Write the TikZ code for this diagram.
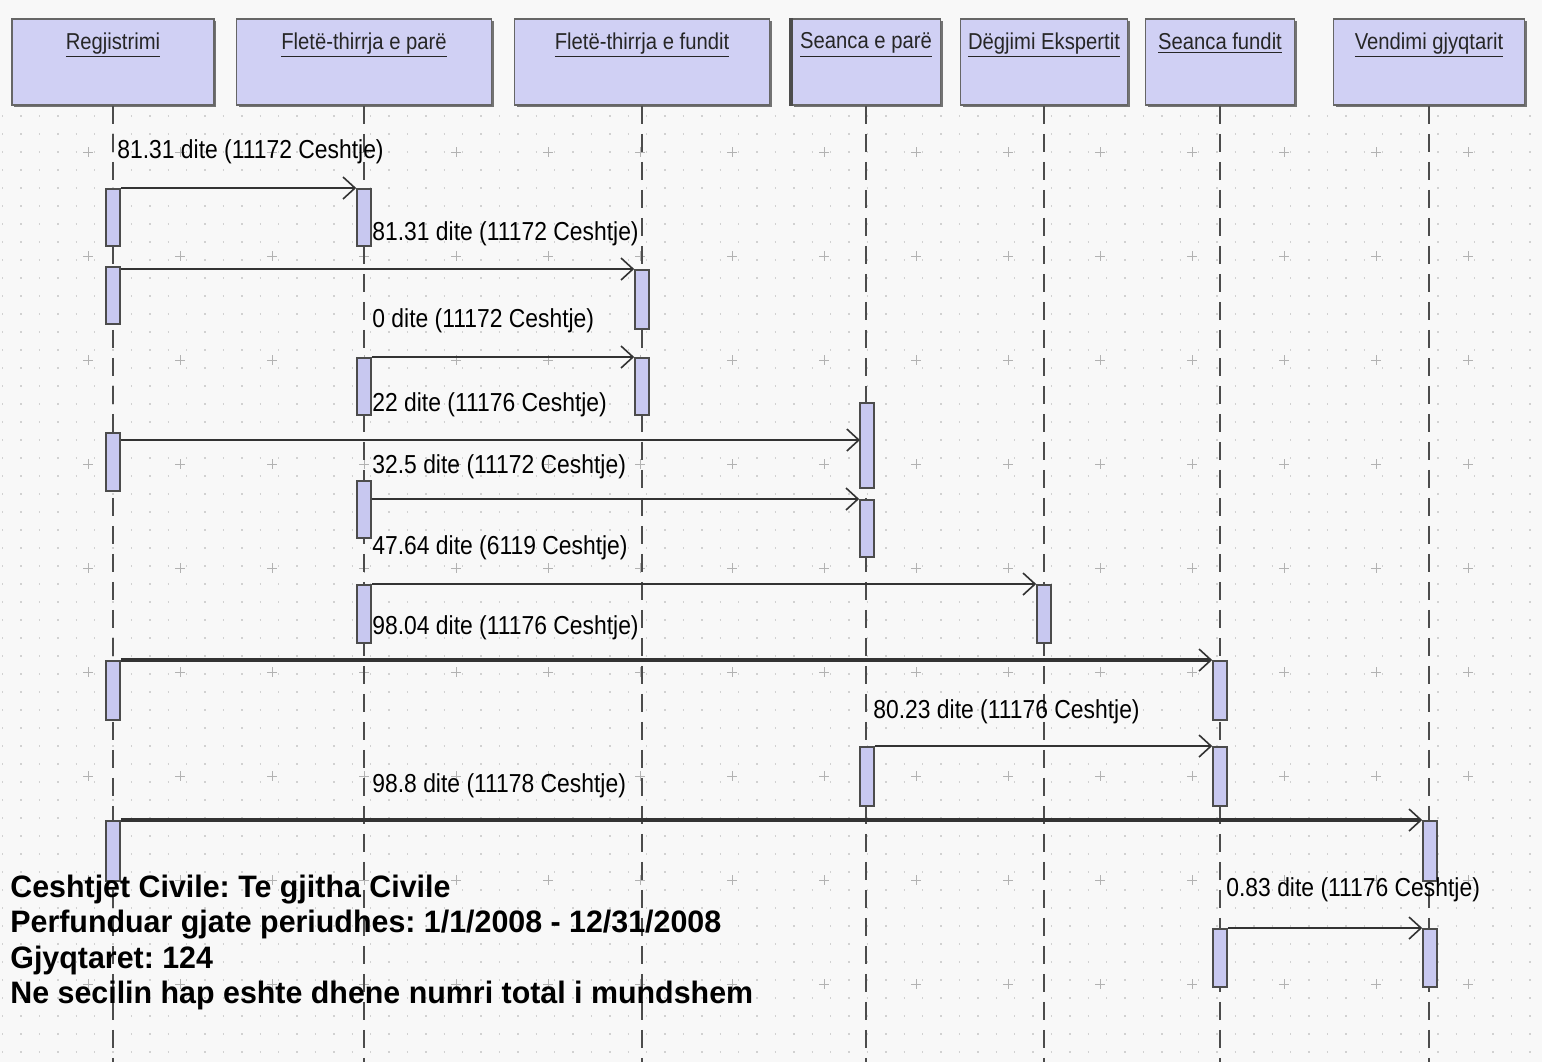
\documentclass[tikz,border=0pt]{standalone}
\usepackage{fontspec}
\setmainfont{Liberation Sans}
\newfontfamily\lblfont[FakeStretch=0.88]{Liberation Sans}
\newfontfamily\botfont[FakeStretch=0.98]{Liberation Sans}
\usetikzlibrary{arrows.meta,shadows,calc}
\definecolor{boxfill}{HTML}{D0D0F4}
\definecolor{actfill}{HTML}{C8C8F0}
\definecolor{bg}{HTML}{F8F8F8}
\frenchspacing
\tikzset{
  head/.style={draw=black!60, line width=0.8pt, fill=boxfill, minimum height=43pt, inner sep=0pt,
    drop shadow={shadow xshift=1.2pt, shadow yshift=-1.2pt, fill=black!55, opacity=1}},
  htext/.style={anchor=north, inner sep=0pt, font=\lblfont\fontsize{11.5}{12}\selectfont, text=black!85},
  life/.style={draw=black!70, line width=1pt, dash pattern=on 9pt off 5pt},
  act/.style={draw=black!70, line width=0.8pt, fill=actfill, minimum width=7pt, inner sep=0pt, anchor=north},
  msg/.style={draw=black!80, line width=0.8pt, -{Straight Barb[length=6pt,width=11pt,line width=0.8pt]}},
  msgm/.style={msg, line width=1.3pt},
  msgk/.style={msg, line width=2.2pt},
  lbl/.style={anchor=west, inner sep=0pt, font=\lblfont\fontsize{13}{14}\selectfont, text=black},
  bot/.style={anchor=west, inner sep=0pt, font=\botfont\bfseries\fontsize{15.5}{17}\selectfont, text=black},
  gridl/.style={draw=black!18, line width=0.6pt, dash pattern=on 0.7pt off 8.5pt},
  plusm/.style={draw=black!30, line width=0.5pt}
}
\begin{document}
\begin{tikzpicture}[x=0.5pt,y=-0.5pt]
\useasboundingbox[fill=bg] (0,0) rectangle (1542,1062);
% background grid
\foreach \yy in {116,134,...,1060} \draw[gridl] (2,\yy) -- (1542,\yy);
\foreach \xx in {88,180,...,1530} \foreach \yy in {152,256,...,1060}
  \draw[plusm] (\xx-5,\yy) -- (\xx+5,\yy) (\xx,\yy-5) -- (\xx,\yy+5);
\coordinate (bot) at (0,1062);
% headers
\node[head, minimum width=101pt]   (h1) at (113,62)  {};
\node[head, minimum width=127.5pt] (h2) at (364,62)  {};
\node[head, minimum width=127.5pt] (h3) at (642,62)  {};
\node[head, minimum width=74.5pt]  (h4) at (866,62)  {};
\node[head, minimum width=83.5pt]  (h5) at (1044,62) {};
\node[head, minimum width=74.5pt]  (h6) at (1220,62) {};
\node[head, minimum width=95.5pt]  (h7) at (1429,62) {};
\draw[black!70, line width=1.8pt] (h4.north west) -- (h4.south west);
\node[htext] (t1) at ([yshift=-7pt]h1.north) {\underline{Regjistrimi}};
\node[htext] (t2) at ([yshift=-7pt]h2.north) {\underline{Fletë-thirrja e parë}};
\node[htext] (t3) at ([yshift=-7pt]h3.north) {\underline{Fletë-thirrja e fundit}};
\node[htext] (t4) at ([yshift=-7pt]h4.north) {\underline{Seanca e parë}};
\node[htext] (t5) at ([yshift=-7pt]h5.north) {\underline{Dëgjimi Ekspertit}};
\node[htext] (t6) at ([yshift=-7pt]h6.north) {\underline{Seanca fundit}};
\node[htext] (t7) at ([yshift=-7pt]h7.north) {\underline{Vendimi gjyqtarit}};
% lifelines
\foreach \h in {h1,h2,h3,h4,h5,h6,h7} \draw[life] (\h.south) -- (\h.south |- bot);
% activations
\node[act, minimum height=28.5pt] (r1) at (113,188) {};
\node[act, minimum height=28.5pt] (r2) at (113,266) {};
\node[act, minimum height=29pt]   (r3) at (113,432) {};
\node[act, minimum height=29.5pt] (r4) at (113,660) {};
\node[act, minimum height=30pt]   (r5) at (113,820) {};
\node[act, minimum height=28.5pt] (a1) at (364,188) {};
\node[act, minimum height=28.5pt] (a2) at (364,357) {};
\node[act, minimum height=28.5pt] (a3) at (364,480) {};
\node[act, minimum height=29pt]   (a4) at (364,584) {};
\node[act, minimum height=29.5pt] (b1) at (642,269) {};
\node[act, minimum height=28.5pt] (b2) at (642,357) {};
\node[act, minimum height=42.5pt] (c1) at (867,402) {};
\node[act, minimum height=28.5pt] (c2) at (867,499) {};
\node[act, minimum height=29.5pt] (c3) at (867,746) {};
\node[act, minimum height=29pt]   (d1) at (1044,584) {};
\node[act, minimum height=29.5pt] (e1) at (1220,660) {};
\node[act, minimum height=29.5pt] (e2) at (1220,746) {};
\node[act, minimum height=29pt]   (e3) at (1220,928) {};
\node[act, minimum height=30pt]   (g1) at (1430,820) {};
\node[act, minimum height=29pt]   (g2) at (1430,928) {};
% messages
\coordinate (m4) at (860,440);
\draw[msg]  (r1.north east) -- (a1.north west);
\draw[msg]  (r2.east |- b1.north) -- (b1.north west);
\draw[msgm] (a2.north east) -- (b2.north west);
\draw[msgm] (r3.east |- m4) -- (m4);
\draw[msgm] (a3.east |- c2.north) -- (c2.north west);
\draw[msg]  (a4.north east) -- (d1.north west);
\draw[msgk] (r4.north east) -- (e1.north west);
\draw[msg]  (c3.north east) -- (e2.north west);
\draw[msgk] (r5.north east) -- (g1.north west);
\draw[msg]  (e3.north east) -- (g2.north west);
% labels
\node[lbl] (l1)  at (117,152)  {81.31 dite (11172 Ceshtje)};
\node[lbl] (l2)  at (372,234)  {81.31 dite (11172 Ceshtje)};
\node[lbl] (l3)  at (372,321)  {0 dite (11172 Ceshtje)};
\node[lbl] (l4)  at (372,405)  {22 dite (11176 Ceshtje)};
\node[lbl] (l5)  at (372,467)  {32.5 dite (11172 Ceshtje)};
\node[lbl] (l6)  at (372,548)  {47.64 dite (6119 Ceshtje)};
\node[lbl] (l7)  at (372,628)  {98.04 dite (11176 Ceshtje)};
\node[lbl] (l8)  at (873,712)  {80.23 dite (11176 Ceshtje)};
\node[lbl] (l9)  at (372,786)  {98.8 dite (11178 Ceshtje)};
\node[lbl] (l10) at (1226,890) {0.83 dite (11176 Ceshtje)};
% bottom text
\node[bot] (n1) at (10,890) {Ceshtjet Civile: Te gjitha Civile};
\node[bot] (n2) at (10,925) {Perfunduar gjate periudhes: 1/1/2008 - 12/31/2008};
\node[bot] (n3) at (10,960) {Gjyqtaret: 124};
\node[bot] (n4) at (10,995) {Ne secilin hap eshte dhene numri total i mundshem};
\end{tikzpicture}
\end{document}
